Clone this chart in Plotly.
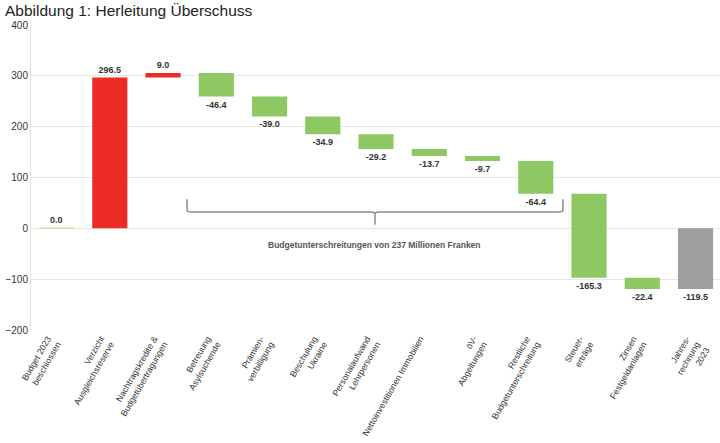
import plotly.graph_objects as go

categories = [
    "Budget 2023<br>beschlossen",
    "Verzicht<br>Ausgleichsreserve",
    "Nachtragskredite &<br>Budgetübertragungen",
    "Betreuung<br>Asylsuchende",
    "Prämien-<br>verbilligung",
    "Beschulung<br>Ukraine",
    "Personalaufwand<br>Lehrpersonen",
    "Nettoinvestitionen Immobilien",
    "öV-<br>Abgeltungen",
    "Restliche<br>Budgetunterschreitung",
    "Steuer-<br>erträge",
    "Zinsen<br>Festgeldanlagen",
    "Jahres-<br>rechnung<br>2023",
]
values = [0.0, 296.5, 9.0, -46.4, -39.0, -34.9, -29.2, -13.7, -9.7, -64.4, -165.3, -22.4, -119.5]
measures = ["absolute"] + ["relative"] * 11 + ["total"]
labels = [f"{v:.1f}" for v in values]
y_ticks = [-200, -100, 0, 100, 200, 300, 400]

brace_text = "Budgetunterschreitungen von 237 Millionen Franken"

RED = "#EC2B24"
GREEN = "#8DC863"
GRAY = "#9E9EA0"
FONT = "Liberation Sans, Arial"

x = list(range(len(categories)))
bar_text = [""] + labels[1:]

fig = go.Figure()
fig.add_trace(go.Waterfall(
    x=x, y=values, measure=measures,
    text=bar_text, textposition="outside",
    textfont=dict(family=FONT, size=9, color="#333333", weight="bold"),
    increasing=dict(marker=dict(color=RED)),
    decreasing=dict(marker=dict(color=GREEN)),
    totals=dict(marker=dict(color=GRAY)),
    connector=dict(visible=False),
    width=0.66,
    cliponaxis=False,
    showlegend=False,
    hoverinfo="skip",
))

# label of the zero-height starting bar
fig.add_annotation(x=x[0], y=values[0], xref="x", yref="y", text=f"<b>{labels[0]}</b>",
                   showarrow=False, yanchor="bottom", yshift=1,
                   font=dict(family=FONT, size=9, color="#333333"))
fig.add_shape(type="line", x0=x[0] - 0.33, x1=x[0] + 0.33, y0=values[0], y1=values[0],
              xref="x", yref="y", line=dict(color="#D8DFA8", width=1.5))

# curly bracket (annotation, not data)
bx0, bx1, bxm = 2.45, 9.51, 5.98
by_top, by_line, by_tip = 57, 32, 7
r = 0.08
path = (f"M {bx0},{by_top} L {bx0},{by_line+4} Q {bx0},{by_line} {bx0+r},{by_line} "
        f"L {bxm-r},{by_line} Q {bxm},{by_line} {bxm},{by_line-4} L {bxm},{by_tip} "
        f"M {bxm},{by_line-4} Q {bxm},{by_line} {bxm+r},{by_line} "
        f"L {bx1-r},{by_line} Q {bx1},{by_line} {bx1},{by_line+4} L {bx1},{by_top}")
fig.add_shape(type="path", path=path, xref="x", yref="y",
              line=dict(color="#8A8A8A", width=1.5))
fig.add_annotation(x=bxm, y=-32, xref="x", yref="y", text=f"<b>{brace_text}</b>",
                   showarrow=False, font=dict(family=FONT, size=8.5, color="#555555"))

# title
fig.add_annotation(x=-28 / 689, y=1 + 14 / 305, xref="paper", yref="paper",
                   text="Abbildung 1: Herleitung Überschuss", showarrow=False,
                   xanchor="left", yanchor="middle",
                   font=dict(family=FONT, size=15.5, color="#222222"))

fig.update_layout(
    width=720, height=443,
    margin=dict(l=31, r=0, t=25, b=113),
    paper_bgcolor="white", plot_bgcolor="white",
    hovermode=False,
    xaxis=dict(tickvals=x, ticktext=categories, tickangle=-60, range=[-0.48, 12.46],
               showgrid=False, zeroline=False, showline=False, ticks="",
               automargin=False, ticklabelshift=-9, ticklabelstandoff=1,
               tickfont=dict(family=FONT, size=8.7, color="#333333")),
    yaxis=dict(range=[-200, 400], tickvals=y_ticks, showgrid=True, gridcolor="#E6E6E6",
               zeroline=False, showline=True, linecolor="#E0E0E0", ticks="",
               automargin=False,
               tickfont=dict(family=FONT, size=10, color="#333333")),
    font=dict(family=FONT),
)

fig.write_html("out.html", config={"displayModeBar": False},
               post_script="document.body.style.margin='0';")
